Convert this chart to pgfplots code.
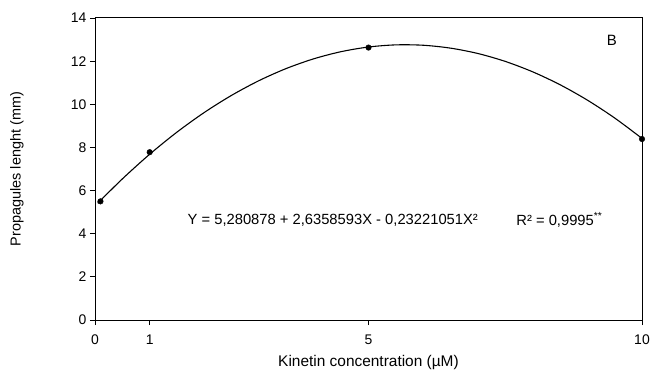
\documentclass[border=0pt]{standalone}
\usepackage{pgfplots}
\pgfplotsset{compat=1.18}
\usepackage{fontspec}
\setmainfont{Liberation Sans}
\usetikzlibrary{calc}
\begin{document}
\begin{tikzpicture}
\begin{axis}[
  scale only axis,
  width=547bp, height=302bp,
  xmin=0, xmax=10, ymin=0, ymax=14,
  xtick={0,1,5,10}, ytick={0,2,4,6,8,10,12,14},
  tick align=outside, tick pos=left,
  major tick length=5bp,
  axis line style={line width=1pt},
  tick style={line width=0.8pt, black},
  /pgf/number format/assume math mode=true,
  tick label style={font=\fontsize{14}{16}\selectfont},
  xticklabel style={yshift=-6bp},
  xlabel={Kinetin concentration (µM)},
  ylabel={Propagules lenght (mm)},
  xlabel style={font=\fontsize{15.5}{18}\selectfont, at={(axis description cs:0.5,0)}, anchor=center, yshift=-43bp},
  ylabel style={font=\fontsize{14.5}{17}\selectfont, at={(axis description cs:-0.1426,0.5)}, anchor=center},
  clip=false,
]
\addplot[black, line width=1.1pt, smooth, tension=0.5] coordinates {
  (0.05,5.413) (0.5,6.541) (1,7.685) (1.5,8.712) (2,9.624) (2.5,10.419)
  (3,11.099) (3.5,11.662) (4,12.109) (4.5,12.440) (5,12.655)
  (5.5,12.754) (6,12.737) (6.5,12.603) (7,12.354) (7.5,11.988)
  (8,11.506) (8.5,10.909) (9,10.195) (9.5,9.365) (10,8.418)
};
\addplot[only marks, mark=*, mark size=2.8bp, black] coordinates {
  (0.1,5.5) (1,7.78) (5,12.63) (10,8.39)
};
\node[anchor=west, font=\fontsize{14.8}{17}\selectfont] at (axis cs:1.63,4.64) {Y = 5,280878 + 2,6358593X - 0,23221051X²};
\node[anchor=west, font=\fontsize{14.8}{17}\selectfont] at (axis cs:7.64,4.64) {R² = 0,9995\textsuperscript{**}};
\node[font=\fontsize{15}{17}\selectfont] at (axis cs:9.45,12.98) {B};
\end{axis}
\pgfresetboundingbox
\path ($(current axis.south west)+(-95bp,-58bp)$) rectangle ($(current axis.north east)+(11bp,18bp)$);
\end{tikzpicture}
\end{document}
